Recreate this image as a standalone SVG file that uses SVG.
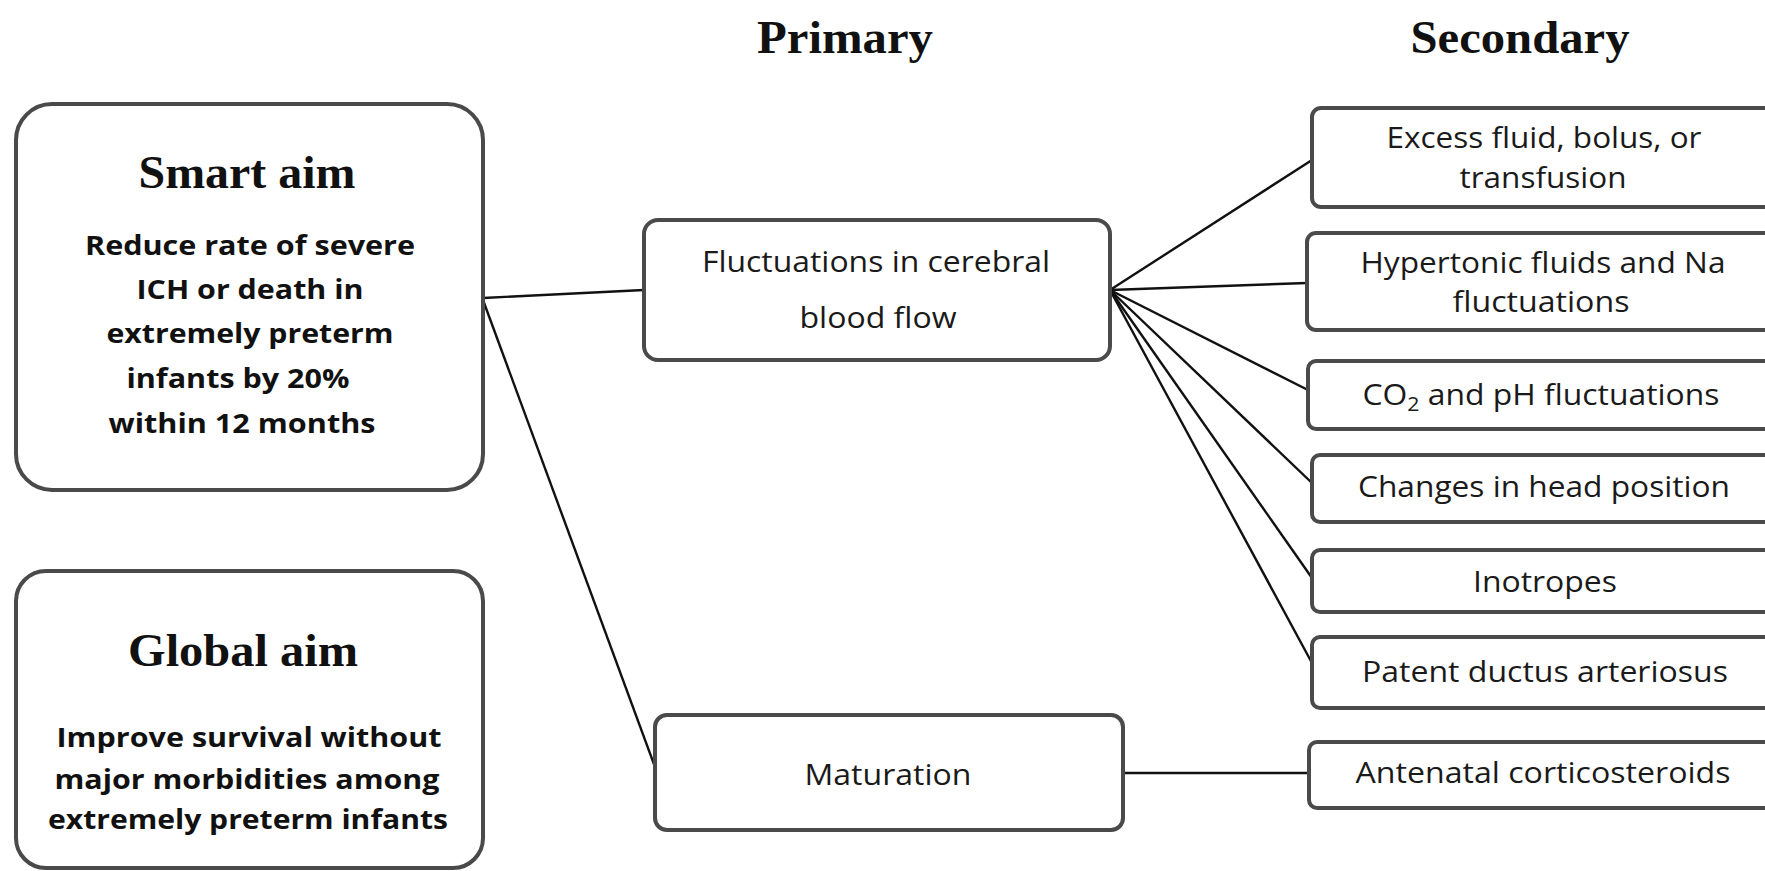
<svg xmlns="http://www.w3.org/2000/svg" width="1765" height="871" viewBox="0 0 1765 871">
<style>
.box{fill:#fff;stroke:#4a4a4a;stroke-width:4}
.head{font-family:"Liberation Serif",serif;font-weight:bold;fill:#111;text-anchor:middle}
.bb{font-family:"Open Sans",sans-serif;font-weight:bold;font-size:26px;fill:#111;text-anchor:middle}
.t{font-family:"Open Sans",sans-serif;font-size:30px;fill:#1a1a1a;text-anchor:middle}
.conn line{stroke:#111;stroke-width:2.4}
</style>
<rect width="1765" height="871" fill="#fff"/>
<text class="head" x="845" y="53" font-size="46" textLength="176" lengthAdjust="spacingAndGlyphs">Primary</text>
<text class="head" x="1520" y="53" font-size="46" textLength="219" lengthAdjust="spacingAndGlyphs">Secondary</text>
<g class="conn">
<line x1="483" y1="298" x2="644" y2="290" stroke-width="2"/>
<line x1="483" y1="300" x2="655" y2="767" stroke-width="2"/>
<line x1="1110" y1="290" x2="1312" y2="160"/>
<line x1="1110" y1="290" x2="1307" y2="283"/>
<line x1="1110" y1="290" x2="1308" y2="390"/>
<line x1="1110" y1="290" x2="1312" y2="483"/>
<line x1="1110" y1="290" x2="1312" y2="578"/>
<line x1="1110" y1="290" x2="1312" y2="663"/>
<line x1="1123" y1="773" x2="1309" y2="773" stroke-width="2"/>
</g>
<g id="smart-aim">
<rect class="box" x="16" y="104" width="467" height="386" rx="36"/>
<text class="head" x="247" y="188" font-size="46" textLength="217" lengthAdjust="spacingAndGlyphs">Smart aim</text>
<text class="bb" x="250" y="255" textLength="330" lengthAdjust="spacingAndGlyphs">Reduce rate of severe</text>
<text class="bb" x="250" y="299" textLength="227" lengthAdjust="spacingAndGlyphs">ICH or death in</text>
<text class="bb" x="250" y="343" textLength="287" lengthAdjust="spacingAndGlyphs">extremely preterm</text>
<text class="bb" x="238" y="388" textLength="223" lengthAdjust="spacingAndGlyphs">infants by 20%</text>
<text class="bb" x="242" y="433" textLength="267" lengthAdjust="spacingAndGlyphs">within 12 months</text>
</g>
<g id="global-aim">
<rect class="box" x="16" y="571" width="467" height="297" rx="30"/>
<text class="head" x="243" y="666" font-size="46" textLength="230" lengthAdjust="spacingAndGlyphs">Global aim</text>
<text class="bb" x="249" y="747" font-size="28" textLength="385" lengthAdjust="spacingAndGlyphs">Improve survival without</text>
<text class="bb" x="247" y="789" font-size="28" textLength="385" lengthAdjust="spacingAndGlyphs">major morbidities among</text>
<text class="bb" x="248" y="829" font-size="28" textLength="400" lengthAdjust="spacingAndGlyphs">extremely preterm infants</text>
</g>
<g id="fluctuations">
<rect class="box" x="644" y="220" width="466" height="140" rx="14"/>
<text class="t" x="876" y="272" font-size="29" textLength="348" lengthAdjust="spacingAndGlyphs">Fluctuations in cerebral</text>
<text class="t" x="878" y="328" font-size="29" textLength="157" lengthAdjust="spacingAndGlyphs">blood flow</text>
</g>
<g id="maturation">
<rect class="box" x="655" y="715" width="468" height="115" rx="12"/>
<text class="t" x="888" y="785" font-size="31" textLength="167" lengthAdjust="spacingAndGlyphs">Maturation</text>
</g>
<g id="excess-fluid">
<rect class="box" x="1312" y="108" width="480" height="99" rx="9"/>
<text class="t" x="1544" y="148" textLength="315" lengthAdjust="spacingAndGlyphs">Excess fluid, bolus, or</text>
<text class="t" x="1543" y="188" textLength="167" lengthAdjust="spacingAndGlyphs">transfusion</text>
</g>
<g id="hypertonic">
<rect class="box" x="1307" y="233" width="485" height="97" rx="9"/>
<text class="t" x="1543" y="273" textLength="365" lengthAdjust="spacingAndGlyphs">Hypertonic fluids and Na</text>
<text class="t" x="1541" y="312" textLength="177" lengthAdjust="spacingAndGlyphs">fluctuations</text>
</g>
<g id="co2">
<rect class="box" x="1308" y="361" width="484" height="68" rx="8"/>
<text class="t" x="1541" y="405" textLength="357" lengthAdjust="spacingAndGlyphs">CO<tspan font-size="20" dy="6">2</tspan><tspan dy="-6"> and pH fluctuations</tspan></text>
</g>
<g id="head-position">
<rect class="box" x="1312" y="455" width="480" height="67" rx="8"/>
<text class="t" x="1544" y="497" textLength="372" lengthAdjust="spacingAndGlyphs">Changes in head position</text>
</g>
<g id="inotropes">
<rect class="box" x="1312" y="550" width="480" height="62" rx="8"/>
<text class="t" x="1545" y="592" textLength="144" lengthAdjust="spacingAndGlyphs">Inotropes</text>
</g>
<g id="pda">
<rect class="box" x="1312" y="637" width="480" height="71" rx="8"/>
<text class="t" x="1545" y="682" textLength="366" lengthAdjust="spacingAndGlyphs">Patent ductus arteriosus</text>
</g>
<g id="corticosteroids">
<rect class="box" x="1309" y="742" width="483" height="66" rx="8"/>
<text class="t" x="1543" y="783" textLength="375" lengthAdjust="spacingAndGlyphs">Antenatal corticosteroids</text>
</g>
</svg>
